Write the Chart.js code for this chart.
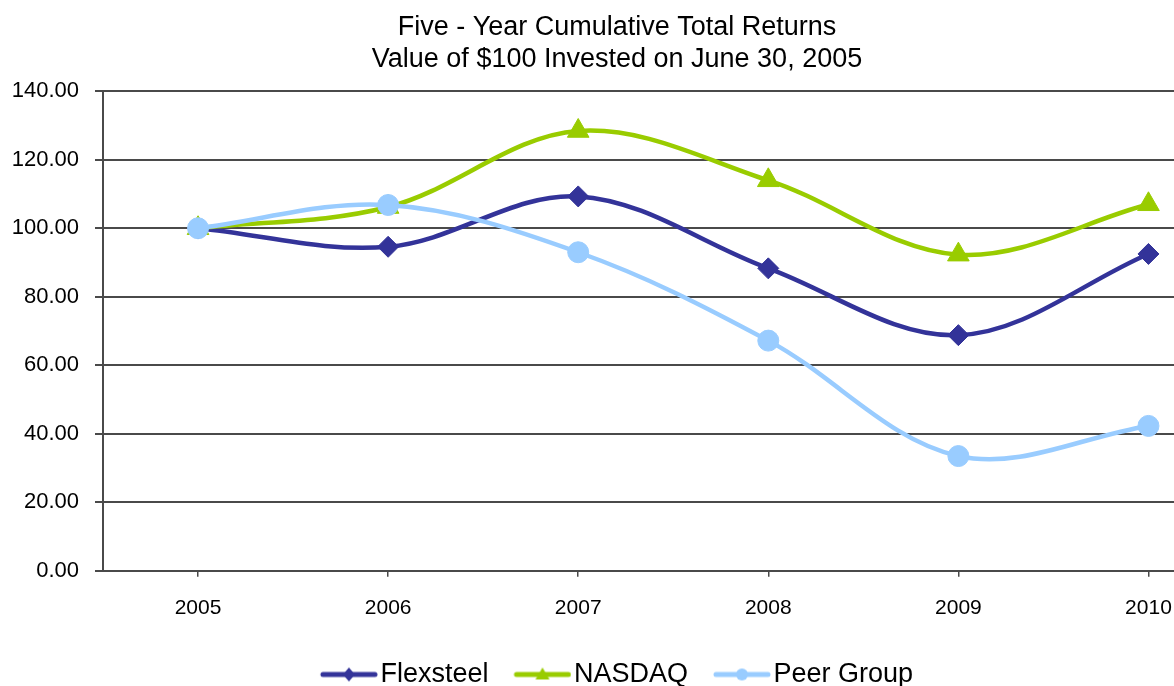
<!DOCTYPE html>
<html>
<head>
<meta charset="utf-8">
<script src="https://cdn.jsdelivr.net/npm/chart.js@4"></script>
<style>
  html, body { margin: 0; padding: 0; background: #fff; overflow: hidden; }
  #wrap { position: absolute; left: 0; top: 0; width: 1257px; height: 698px; }
</style>
</head>
<body>
<div id="wrap"><canvas id="chart" width="1257" height="698"></canvas></div>
<script>
// Five-year cumulative total returns, value of $100 invested 30 June 2005
const years = ["2005", "2006", "2007", "2008", "2009", "2010"];
const flexsteel = [100.0, 94.6, 109.3, 88.3, 68.8, 92.5];
const nasdaq    = [100.0, 106.2, 128.4, 114.0, 92.3, 107.0];
const peerGroup = [100.0, 106.8, 93.0, 67.2, 33.5, 42.3];
const yTicks = [0, 20, 40, 60, 80, 100, 120, 140];

const FONT = "'Liberation Sans', Arial, sans-serif";
const GRID = "#4a4a4a";

// legend swatch: thick line with the series marker in the middle
function swatch(color, style) {
  const c = document.createElement("canvas");
  c.width = 68; c.height = 20;
  const g = c.getContext("2d");
  g.strokeStyle = color; g.fillStyle = color;
  g.lineWidth = 5; g.lineCap = "round";
  g.beginPath(); g.moveTo(13, 10); g.lineTo(65, 10); g.stroke();
  const cx = 39, cy = 10;
  g.beginPath();
  if (style === "rectRot") {
    g.moveTo(cx, cy - 7); g.lineTo(cx + 6, cy); g.lineTo(cx, cy + 7); g.lineTo(cx - 6, cy);
  } else if (style === "triangle") {
    g.moveTo(cx, cy - 7); g.lineTo(cx + 7, cy + 5); g.lineTo(cx - 7, cy + 5);
  } else {
    g.arc(cx, cy, 6, 0, 2 * Math.PI);
  }
  g.closePath(); g.fill();
  return c;
}

const series = [
  { label: "Flexsteel",  data: flexsteel, color: "#333399", style: "rectRot",  r: 10.5, order: 2 },
  { label: "NASDAQ",     data: nasdaq,    color: "#99cc00", style: "triangle", r: 12.5, order: 1 },
  { label: "Peer Group", data: peerGroup, color: "#99ccff", style: "circle",   r: 10.5, order: 0 },
];

new Chart(document.getElementById("chart"), {
  type: "line",
  data: {
    labels: years,
    datasets: series.map(s => ({
      label: s.label,
      data: s.data,
      borderColor: s.color,
      backgroundColor: s.color,
      borderWidth: 4.5,
      tension: 0.35,
      pointStyle: s.style,
      pointRadius: s.r,
      pointBorderWidth: 1,
      pointBorderColor: s.color,
      pointBackgroundColor: s.color,
      order: s.order,
      legendSwatch: swatch(s.color, s.style),
    })),
  },
  options: {
    responsive: false,
    animation: false,
    // the plot runs past the right edge of the window, as in the source image
    layout: { padding: { left: -23, right: 0, top: 0, bottom: 0 } },
    plugins: {
      title: {
        display: true,
        text: ["Five - Year Cumulative Total Returns", "Value of $100 Invested on June 30, 2005"],
        color: "#000",
        font: { family: FONT, size: 27, weight: "normal", lineHeight: 1.19 },
        padding: { top: 11, bottom: 16 },
      },
      legend: {
        position: "bottom",
        labels: {
          usePointStyle: true,
          pointStyleWidth: 46,
          padding: 26,
          color: "#000",
          font: { family: FONT, size: 27 },
          generateLabels: (chart) => chart.data.datasets.map((ds, i) => ({
            text: ds.label,
            pointStyle: ds.legendSwatch,
            fillStyle: ds.borderColor,
            strokeStyle: ds.borderColor,
            lineWidth: 0,
            hidden: false,
            datasetIndex: i,
            fontColor: "#000",
          })),
        },
      },
      tooltip: { enabled: false },
    },
    scales: {
      x: {
        offset: true,
        grid: { display: true, drawOnChartArea: false, offset: false, color: GRID, lineWidth: 1.5, tickLength: 6 },
        border: { display: true, color: GRID, width: 2 },
        ticks: { color: "#000", padding: 19, font: { family: FONT, size: 21 }, maxRotation: 0 },
        afterFit: (s) => { s.height -= 5; },
      },
      y: {
        min: 0, max: 140,
        afterBuildTicks: (s) => { s.ticks = yTicks.map(v => ({ value: v })); },
        grid: { color: GRID, lineWidth: 2, tickLength: 8 },
        border: { display: true, color: GRID, width: 2 },
        ticks: {
          color: "#000", padding: 16,
          font: { family: FONT, size: 22 },
          callback: (v) => Number(v).toFixed(2),
        },
        afterFit: (s) => { s.width = 126; },
      },
    },
  },
});
</script>
</body>
</html>
